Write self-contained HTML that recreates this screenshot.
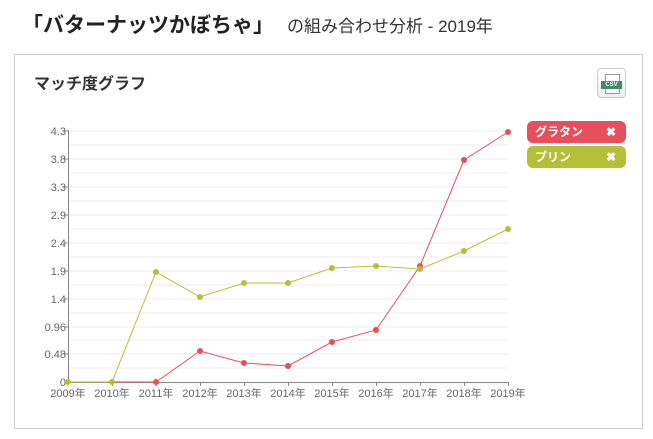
<!DOCTYPE html>
<html><head><meta charset="utf-8"><style>
body{margin:0;width:653px;height:439px;background:#fff;font-family:"Liberation Sans","Noto Sans CJK JP",sans-serif;position:relative;overflow:hidden}
.t{position:absolute;left:22px;top:9px;font-size:21px;font-weight:bold;color:#222;white-space:nowrap}
.s{position:absolute;left:287px;top:12px;font-size:17px;color:#333;white-space:nowrap}
.p{position:absolute;left:14px;top:54px;width:629px;height:375px;border:1px solid #ccc;box-sizing:border-box}
.h{position:absolute;left:34px;top:70px;font-size:16px;font-weight:bold;color:#333}
.csv{position:absolute;left:597px;top:68px;width:29px;height:30px;border:1px solid #ccc;border-radius:4px;background:linear-gradient(#fff,#eee);box-sizing:border-box}
.lg{position:absolute;left:527px;width:99px;height:22px;border-radius:6px;color:#fff;font-size:12px;font-weight:bold;line-height:22px;box-sizing:border-box;padding-left:8px}
.lg b{position:absolute;right:10px;top:0}
</style></head><body>
<div class="t">「バターナッツかぼちゃ」</div>
<div class="s">の組み合わせ分析 - 2019年</div>
<div class="p"></div>
<div class="h">マッチ度グラフ</div>
<div class="csv"><div style="position:absolute;left:7px;top:5px;width:13px;height:18px;background:#fff;border:1px solid #999"></div><div style="position:absolute;left:3px;top:12px;width:21px;height:8px;background:#3d8c6a;color:#fff;font-size:6px;line-height:8px;text-align:center;font-weight:bold">CSV</div></div>
<div class="lg" style="top:121px;background:#e84f5e">グラタン<b>✖</b></div>
<div class="lg" style="top:146px;background:#b7bf38">プリン<b>✖</b></div>
<svg width="653" height="439" style="position:absolute;left:0;top:0">
<g stroke="#eee" stroke-width="1">
<line x1="68" x2="508" y1="131" y2="131"/><line x1="68" x2="508" y1="145" y2="145"/><line x1="68" x2="508" y1="159" y2="159"/><line x1="68" x2="508" y1="173" y2="173"/><line x1="68" x2="508" y1="187" y2="187"/><line x1="68" x2="508" y1="201" y2="201"/><line x1="68" x2="508" y1="215" y2="215"/><line x1="68" x2="508" y1="229" y2="229"/><line x1="68" x2="508" y1="243" y2="243"/><line x1="68" x2="508" y1="257" y2="257"/><line x1="68" x2="508" y1="271" y2="271"/><line x1="68" x2="508" y1="285" y2="285"/><line x1="68" x2="508" y1="299" y2="299"/><line x1="68" x2="508" y1="313" y2="313"/><line x1="68" x2="508" y1="327" y2="327"/><line x1="68" x2="508" y1="340" y2="340"/><line x1="68" x2="508" y1="354" y2="354"/><line x1="68" x2="508" y1="368" y2="368"/>
</g>
<g stroke="#888" fill="none"><path d="M68.5 130V382.5H508.5"/>
<path d="M64 131h4M64 159h4M64 187h4M64 215h4M64 243h4M64 271h4M64 299h4M64 327h4M64 354h4M112.5 382v4M156.5 382v4M200.5 382v4M244.5 382v4M288.5 382v4M332.5 382v4M376.5 382v4M420.5 382v4M464.5 382v4M508.5 382v4"/></g>
<g font-size="11" fill="#666" text-anchor="end">
<text x="66" y="135">4.3</text><text x="66" y="163">3.8</text><text x="66" y="191">3.3</text><text x="66" y="219">2.9</text><text x="66" y="247">2.4</text><text x="66" y="275">1.9</text><text x="66" y="303">1.4</text><text x="66" y="331">0.96</text><text x="66" y="358">0.48</text><text x="66" y="386">0</text></g>
<g font-size="11" fill="#666" text-anchor="middle">
<text x="68" y="397">2009年</text><text x="112" y="397">2010年</text><text x="156" y="397">2011年</text><text x="200" y="397">2012年</text><text x="244" y="397">2013年</text><text x="288" y="397">2014年</text><text x="332" y="397">2015年</text><text x="376" y="397">2016年</text><text x="420" y="397">2017年</text><text x="464" y="397">2018年</text><text x="508" y="397">2019年</text></g>
<polyline fill="none" stroke="#e84f5e" stroke-width="1" points="68,382 112,382 156,382 200,351 244,363 288,366 332,342 376,330 420,266 464,160 508,132"/>
<polyline fill="none" stroke="#b7bf38" stroke-width="1" points="68,382 112,382 156,272 200,297 244,283 288,283 332,268 376,266 420,269 464,251 508,229"/>
<g fill="#e84f5e"><circle cx="156" cy="382" r="3"/><circle cx="200" cy="351" r="3"/><circle cx="244" cy="363" r="3"/><circle cx="288" cy="366" r="3"/><circle cx="332" cy="342" r="3"/><circle cx="376" cy="330" r="3"/><circle cx="420" cy="266" r="3"/><circle cx="464" cy="160" r="3"/><circle cx="508" cy="132" r="3"/></g>
<g fill="#b7bf38"><circle cx="68" cy="382" r="3"/><circle cx="112" cy="382" r="3"/><circle cx="156" cy="272" r="3"/><circle cx="200" cy="297" r="3"/><circle cx="244" cy="283" r="3"/><circle cx="288" cy="283" r="3"/><circle cx="332" cy="268" r="3"/><circle cx="376" cy="266" r="3"/><circle cx="420" cy="269" r="3"/><circle cx="464" cy="251" r="3"/><circle cx="508" cy="229" r="3"/></g>
</svg>
</body></html>
